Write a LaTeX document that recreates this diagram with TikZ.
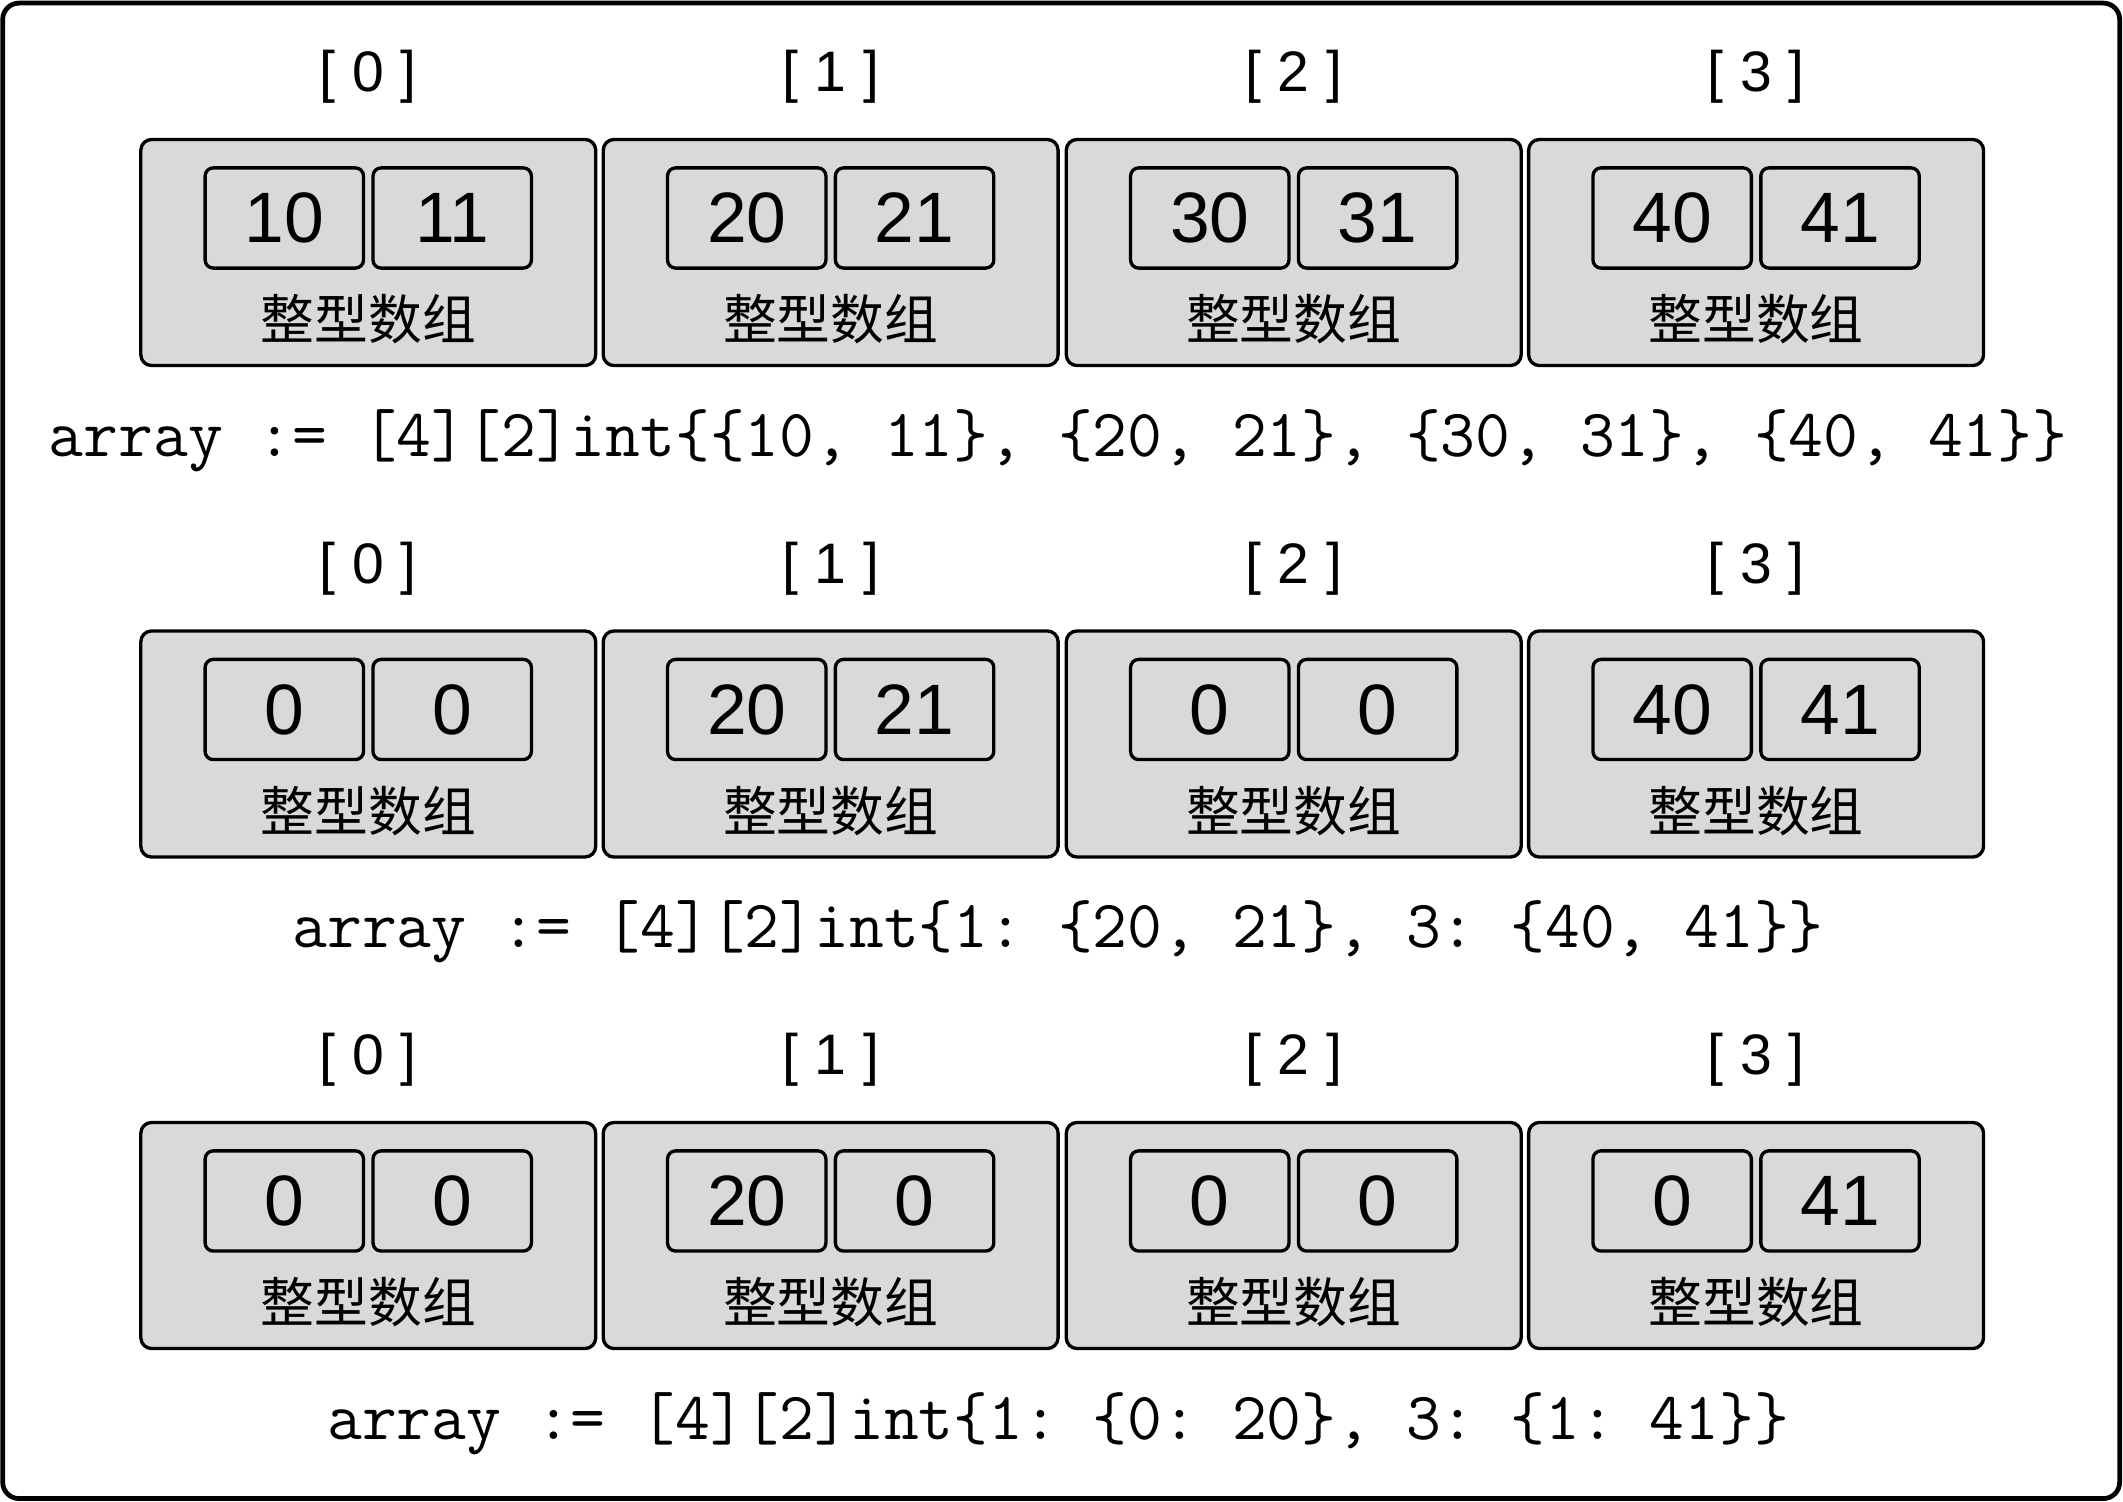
\documentclass[tikz,border=0pt]{standalone}
\usepackage{fontspec}
\setmainfont{Liberation Sans}
\newfontfamily\cjk{Noto Sans CJK SC}
\tikzset{
    arr/.style={draw, fill=black!15, rounded corners=0.8mm, line width=0.7pt,
    	minimum width=33.6mm, minimum height=16.7mm},
    elem/.style={draw, rounded corners=0.6mm, line width=0.7pt, inner sep=0pt,
    	minimum width=11.7mm, minimum height=7.4mm,
    	font=\fontsize{15}{15}\selectfont}
}
\tikzset{
    lbl/.style={inner sep=0pt, font=\cjk\fontsize{11.3}{11.3}\selectfont},
    idx/.style={inner sep=0pt, font=\fontsize{12}{12}\selectfont},
    code/.style={inner sep=0pt,
    	font=\ttfamily\fontsize{14.2}{14.2}\selectfont\frenchspacing}
}

\begin{document}
\begin{tikzpicture}[x=1mm, y=1mm]
	\useasboundingbox (0,0) rectangle (156.8,110.93);
	\draw[line width=1pt, rounded corners=1.2mm] (0.2,0.25) rectangle (156.55,110.7);
	
	% first initialisation
	\node[idx] (a0i) at (27.2,105.23) {[\kern3.5pt{}0\kern3.5pt]};
	\node[idx] (a1i) at (61.35,105.23) {[\kern3.5pt{}1\kern3.5pt]};
	\node[idx] (a2i) at (95.55,105.23) {[\kern3.5pt{}2\kern3.5pt]};
	\node[idx] (a3i) at (129.7,105.23) {[\kern3.5pt{}3\kern3.5pt]};
	\node[arr] (a0) at (27.2,92.28) {}; \node[elem] (a0x) at (21.0,94.83) {10};
	\node[elem] (a0y) at (33.4,94.83) {11}; \node[lbl] (a0n) at (27.2,87.33) {整型数组};
	\node[arr] (a1) at (61.35,92.28) {}; \node[elem] (a1x) at (55.15,94.83) {20};
	\node[elem] (a1y) at (67.55,94.83) {21}; \node[lbl] (a1n) at (61.35,87.33) {整型数组};
	\node[arr] (a2) at (95.55,92.28) {}; \node[elem] (a2x) at (89.35,94.83) {30};
	\node[elem] (a2y) at (101.75,94.83) {31}; \node[lbl] (a2n) at (95.55,87.33) {整型数组};
	\node[arr] (a3) at (129.7,92.28) {}; \node[elem] (a3x) at (123.5,94.83) {40};
	\node[elem] (a3y) at (135.9,94.83) {41}; \node[lbl] (a3n) at (129.7,87.33) {整型数组};
	\node[code] (ac) at (78.15,78.4)
		{array := [4][2]int\{\{10, 11\}, \{20, 21\}, \{30, 31\}, \{40, 41\}\}};
	
	% index initialisation
	\node[idx] (b0i) at (27.2,68.93) {[\kern3.5pt{}0\kern3.5pt]};
	\node[idx] (b1i) at (61.35,68.93) {[\kern3.5pt{}1\kern3.5pt]};
	\node[idx] (b2i) at (95.55,68.93) {[\kern3.5pt{}2\kern3.5pt]};
	\node[idx] (b3i) at (129.7,68.93) {[\kern3.5pt{}3\kern3.5pt]};
	\node[arr] (b0) at (27.2,55.98) {}; \node[elem] (b0x) at (21.0,58.53) {0};
	\node[elem] (b0y) at (33.4,58.53) {0}; \node[lbl] (b0n) at (27.2,51.03) {整型数组};
	\node[arr] (b1) at (61.35,55.98) {}; \node[elem] (b1x) at (55.15,58.53) {20};
	\node[elem] (b1y) at (67.55,58.53) {21}; \node[lbl] (b1n) at (61.35,51.03) {整型数组};
	\node[arr] (b2) at (95.55,55.98) {}; \node[elem] (b2x) at (89.35,58.53) {0};
	\node[elem] (b2y) at (101.75,58.53) {0}; \node[lbl] (b2n) at (95.55,51.03) {整型数组};
	\node[arr] (b3) at (129.7,55.98) {}; \node[elem] (b3x) at (123.5,58.53) {40};
	\node[elem] (b3y) at (135.9,58.53) {41}; \node[lbl] (b3n) at (129.7,51.03) {整型数组};
	\node[code] (bc) at (78.15,42.1)
		{array := [4][2]int\{1: \{20, 21\}, 3: \{40, 41\}\}};
	
	% nested index initialisation
	\node[idx] (c0i) at (27.2,32.63) {[\kern3.5pt{}0\kern3.5pt]};
	\node[idx] (c1i) at (61.35,32.63) {[\kern3.5pt{}1\kern3.5pt]};
	\node[idx] (c2i) at (95.55,32.63) {[\kern3.5pt{}2\kern3.5pt]};
	\node[idx] (c3i) at (129.7,32.63) {[\kern3.5pt{}3\kern3.5pt]};
	\node[arr] (c0) at (27.2,19.68) {}; \node[elem] (c0x) at (21.0,22.23) {0};
	\node[elem] (c0y) at (33.4,22.23) {0}; \node[lbl] (c0n) at (27.2,14.73) {整型数组};
	\node[arr] (c1) at (61.35,19.68) {}; \node[elem] (c1x) at (55.15,22.23) {20};
	\node[elem] (c1y) at (67.55,22.23) {0}; \node[lbl] (c1n) at (61.35,14.73) {整型数组};
	\node[arr] (c2) at (95.55,19.68) {}; \node[elem] (c2x) at (89.35,22.23) {0};
	\node[elem] (c2y) at (101.75,22.23) {0}; \node[lbl] (c2n) at (95.55,14.73) {整型数组};
	\node[arr] (c3) at (129.7,19.68) {}; \node[elem] (c3x) at (123.5,22.23) {0};
	\node[elem] (c3y) at (135.9,22.23) {41}; \node[lbl] (c3n) at (129.7,14.73) {整型数组};
	\node[code] (cc) at (78.15,5.8)
		{array := [4][2]int\{1: \{0: 20\}, 3: \{1: 41\}\}};
\end{tikzpicture}
\end{document}
